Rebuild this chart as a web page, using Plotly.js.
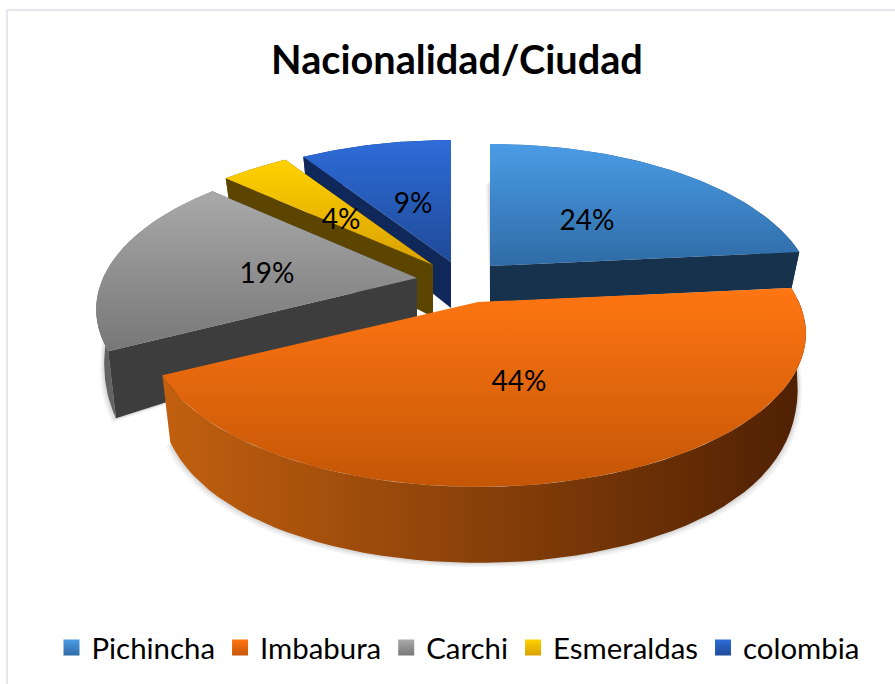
<!DOCTYPE html>
<html><head><meta charset="utf-8">
<script src="https://cdn.plot.ly/plotly-3.0.1.min.js"></script>
<style>html,body{margin:0;padding:0;background:#fff}</style></head>
<body><div id="chart" style="width:895px;height:684px"></div>
<script>
// data
var categories = ["Pichincha","Imbabura","Carchi","Esmeraldas","colombia"];
var values = [24,44,19,4,9];
// styling of the drawn 3-D pie
var apexX = [490,478,417,433,451];
var apexY = [266,302,278,265,262];
var apexDrop = [36,36,44,52,46];
var radiusA = [317,321,314,318,318];
var topColors = [["#4a9ce6","#2f6ba6"],["#ff7612","#c45606"],["#a9a9a9","#777777"],["#ffd200","#d9a000"],["#2e6cd8","#1f4a98"]];
var faceColors = ["#17324d","#5a2a06","#3d3d3d","#5c4500","#10275a"];
var rimColors = [["#2f6ba6","#17324d"],["#c2600f","#4e2003"],["#5c5c5c","#9a9a9a"],["#8a6a00","#5c4500"],["#1f4a98","#10275a"]];
var labelX = [587,519,267,341,413];
var labelY = [223,384,276,222,206];
var B = 147, P = 0.205, H = 36;

function warp(t){ var s = Math.sin(t); return t - 0.035*s*s; }
function top3(i, t0){
  var t = warp(t0), X = Math.sin(t), Y = Math.cos(t), w = 1 + P*Y;
  return [apexX[i] + radiusA[i]*X/w, apexY[i] - B*Y/w];
}
function bot3(i, t0){
  var p = top3(i,t0), Y = Math.cos(warp(t0)), h = H;
  if (Y < 0) h += 40*(1 - Math.pow(1 + Y, 2.5));
  return [apexX[i] + 0.975*(p[0]-apexX[i]), p[1] + h];
}
function arc(fn, i, a0, a1){
  var out = [], n = 60;
  for (var k = 0; k <= n; k++) out.push(fn(i, a0 + (a1-a0)*k/n));
  return out;
}
function poly(pts, fill){
  var tr = {type:"scatter", mode:"lines", x:pts.map(function(p){return p[0]}), y:pts.map(function(p){return p[1]}),
    fill:"toself", line:{width:0,color:"rgba(0,0,0,0)"}, hoverinfo:"skip", showlegend:false};
  if (typeof fill === "string") tr.fillcolor = fill; else tr.fillgradient = fill;
  return tr;
}
function grad(type, c){ return {type:type, colorscale:[[0,c[0]],[1,c[1]]]}; }

var angles = [], acc = 0, total = values.reduce(function(a,b){return a+b},0);
values.forEach(function(v){ angles.push([acc/total*2*Math.PI, (acc+v)/total*2*Math.PI]); acc += v; });

var traces = [];
function sliceTraces(i){
  var a0 = angles[i][0], a1 = angles[i][1];
  var ap = [apexX[i], apexY[i]], apb = [apexX[i], apexY[i]+apexDrop[i]];
  var rimT = arc(top3,i,a0,a1), rimB = arc(bot3,i,a0,a1);
  [7,4,2].forEach(function(d){
    var s = rimB.map(function(p){ return [p[0]+(p[0]>apexX[i]?d*0.6:-d*0.6), p[1]+d*0.6]; });
    traces.push(poly([apb].concat(s).concat([apb]), "rgba(0,0,0,0.05)"));
  });
  traces.push(poly(rimT.concat(rimB.slice().reverse()).concat([rimT[0]]), grad("horizontal", rimColors[i])));
  if (i !== 1) {
    traces.push(poly([ap, top3(i,a1), bot3(i,a1), apb, ap], faceColors[i]));
    traces.push(poly([ap, top3(i,a0), bot3(i,a0), apb, ap], faceColors[i]));
  }
  // the y axis runs downward, so the colour stops run bottom-to-top of the screen
  traces.push(poly([ap].concat(rimT).concat([ap]), grad("vertical", [topColors[i][1], topColors[i][0]])));
}
[4,3,2,0,1].forEach(sliceTraces);

traces.push({type:"scatter", mode:"text", x:labelX, y:labelY,
  text:values.map(function(v){return v+"%"}), textposition:"middle center",
  textfont:{family:"Lato, sans-serif", size:28, color:"#000"}, hoverinfo:"skip", showlegend:false});

categories.forEach(function(c,i){
  traces.push({type:"scatter", mode:"markers", x:[null], y:[null], name:c,
    marker:{symbol:"square", size:19, color:topColors[i][0], gradient:{type:"vertical", color:topColors[i][1]}}});
});

var border = {color:"#e4e7ee", width:2};
var layout = {
  width:895, height:684, margin:{l:0,r:0,t:0,b:0}, paper_bgcolor:"#fff", plot_bgcolor:"#fff",
  title:{text:"<b>Nacionalidad/Ciudad</b>", x:457/895, xanchor:"center", y:1-60/684, yanchor:"middle",
    font:{family:"Lato, sans-serif", size:39.7, color:"#000"}},
  xaxis:{range:[0,895], visible:false, fixedrange:true},
  yaxis:{range:[684,0], visible:false, fixedrange:true},
  legend:{orientation:"h", x:458/895, xanchor:"center", y:1-648/684, yanchor:"middle",
    font:{family:"Lato, sans-serif", size:29.4, color:"#000"}, itemwidth:30, bgcolor:"rgba(0,0,0,0)"},
  shapes:[
    {type:"line", xref:"x", yref:"y", x0:7, x1:895, y0:10, y1:10, line:border},
    {type:"line", xref:"x", yref:"y", x0:7, x1:7, y0:10, y1:684, line:border}
  ]
};
Plotly.newPlot("chart", traces, layout, {displayModeBar:false, staticPlot:true});
</script></body></html>
